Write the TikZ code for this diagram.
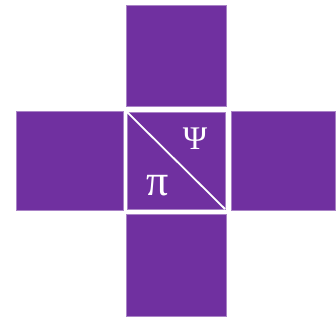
\documentclass[tikz,border=0pt]{standalone}
\usepackage{fontspec}
\setmainfont{Liberation Serif}
\definecolor{cellpurple}{RGB}{112,48,160}
\begin{document}
\begin{tikzpicture}[x=1pt,y=-1pt,
  cell/.style={fill=cellpurple,draw=cellpurple!60!white,line width=0.4pt,inner sep=0pt,outer sep=0pt},
  sym/.style={text=white,inner sep=0pt}]
\useasboundingbox (0,0) rectangle (336,320);
\node[cell,minimum width=100pt,minimum height=101pt] (top) at (176,55.5) {};
\node[cell,minimum width=107pt,minimum height=99pt] (left) at (69.5,160.5) {};
\node[cell,minimum width=98pt,minimum height=97pt] (center) at (176,160.5) {};
\node[cell,minimum width=104pt,minimum height=99pt] (right) at (283,160.5) {};
\node[cell,minimum width=100pt,minimum height=102pt] (bottom) at (176,265) {};
\draw[white,line width=1.8pt] (center.north west) -- (center.south east);
\node[sym,font=\fontsize{33}{33}\selectfont] (psi) at (195,139) {Ψ};
\node[sym,font=\fontsize{44}{44}\selectfont] (pi) at (158,186) {π};
\end{tikzpicture}
\end{document}
